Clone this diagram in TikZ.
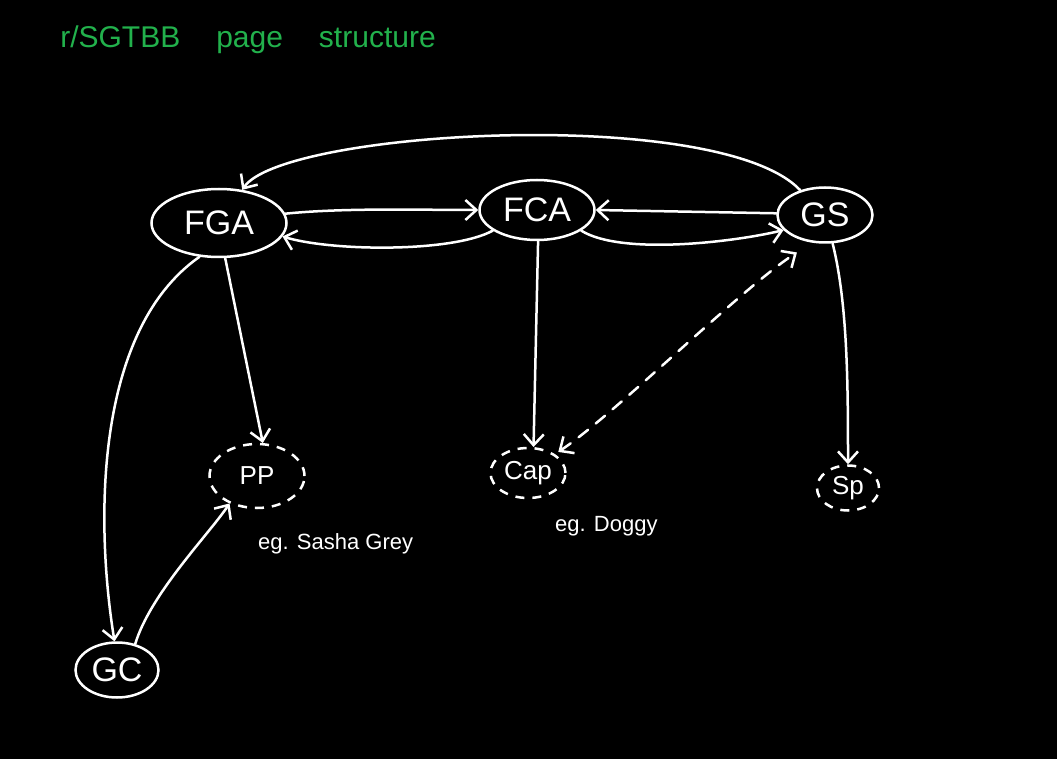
\documentclass[tikz,border=0pt]{standalone}
\usepackage{fontspec}
\setmainfont{Liberation Sans}
\usetikzlibrary{positioning}
\usetikzlibrary{arrows.meta}
\usetikzlibrary{shapes}
\definecolor{chalkgreen}{RGB}{34,177,76}
\tikzset{
        pagenode/.style={ellipse, align=center, inner sep=0pt, white, draw=white, line width=2.5pt},
        % Main pages
        page_main/.style={pagenode, font=\fontsize{34}{38}\selectfont},
        % Sub pages
        page_sub/.style={pagenode, dash pattern=on 9pt off 8pt, font=\fontsize{26}{30}\selectfont},
        % Links between pages
        page_link/.style={white, line width=2.5pt, line cap=round, -{Straight Barb[length=11pt,width=20pt]}},
        % Notes under pages
        page_note/.style={white, inner sep=0pt, font=\fontsize{22}{26}\selectfont}
}
\begin{document}
\begin{tikzpicture}[x=1pt, y=-1pt]
            \fill[black] (0,0) rectangle (1057,759);
            \useasboundingbox (0,0) rectangle (1057,759);
            \node[chalkgreen, font=\fontsize{30}{34}\selectfont] (title) at (248,40) {r/SGTBB\hspace{1.2em}page\hspace{1.2em}structure};

            \node[page_main, minimum width=135pt, minimum height=68pt] (fga) at (219,223) {FGA};
            \node[page_main, minimum width=115pt, minimum height=60pt] (fca) at (537,210) {FCA};
            \node[page_main, minimum width=95pt, minimum height=55pt] (gs) at (825,215) {GS};
            \node[page_main, minimum width=83pt, minimum height=55pt] (gc) at (117,670) {GC};
            \node[page_sub, minimum width=95pt, minimum height=64pt] (pp) at (257,476) {PP};
            \node[page_sub, minimum width=75pt, minimum height=50pt] (cap) at (528,473) {Cap};
            \node[page_sub, minimum width=62pt, minimum height=45pt] (sp) at (848,488) {Sp};

            \node[page_note, below right=24pt and 1pt of pp.south] (ppnote) {eg. Sasha Grey};
            \node[page_note, below right=17pt and 27pt of cap.south] (capnote) {eg. Doggy};

            \draw[page_link] (gs.135) .. controls +(-80,-85) and +(40,-60) .. (fga.55);
            \draw[page_link] (fga.8) .. controls +(60,-6) and +(-60,0) .. (fca.180);
            \draw[page_link] (fca.205) .. controls +(-40,22) and +(50,15) .. (fga.-12);
            \draw[page_link] (gs.178) -- (fca.0);
            \draw[page_link] (fca.-25) .. controls +(40,25) and +(-50,12) .. (gs.200);
            \draw[page_link] (fca.-88) -- (cap.78);
            \draw[page_link] (fga.-80) -- (pp.80);
            \draw[page_link] (fga.240) .. controls (95,330) and (95,520) .. (gc.95);
            \draw[page_link] (gc.55) .. controls +(15,-50) and +(-20,30) .. (pp.225);
            \draw[page_link] (gs.-75) .. controls +(15,60) and +(0,-80) .. (sp.90);
            \draw[page_link, {Straight Barb[length=11pt,width=20pt]}-{Straight Barb[length=11pt,width=20pt]}, dash pattern=on 12pt off 10pt, shorten <=4pt, shorten >=18pt] (cap.35) .. controls +(60,-40) and +(-70,45) .. (gs.245);
        \end{tikzpicture}
\end{document}
